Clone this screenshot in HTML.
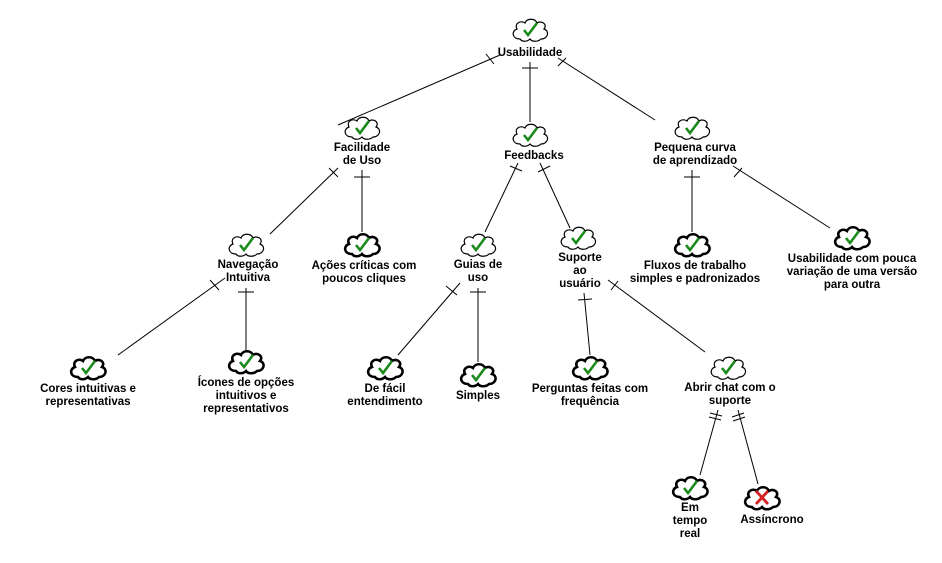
<!DOCTYPE html>
<html><head><meta charset="utf-8"><style>
body{margin:0;background:#fff}
text{font-family:"Liberation Sans",Tahoma,sans-serif;font-size:11.5px;font-weight:bold;text-anchor:middle}
</style></head><body>
<svg width="942" height="558" viewBox="0 0 942 558" xmlns="http://www.w3.org/2000/svg">
<defs>
<path id="cl" d="M-10,9 C-18,9 -19,1 -13,-1 C-16,-7 -9,-10 -5,-7 C-3,-12 5,-12 7,-7 C11,-10 18,-6 14,-1 C20,1 18,9 11,9 C8,12 2,12 0,9 C-3,12 -8,12 -10,9 Z" fill="#fff"/>
<g id="ck"><path d="M-6,0 L-2,5 L7,-7" fill="none" stroke="#1a8a1a" stroke-width="2.6"/></g>
<g id="thin"><use href="#cl" stroke="#000" stroke-width="1.2"/><use href="#ck"/></g>
<g id="thick"><use href="#cl" stroke="#000" stroke-width="2.6"/><use href="#ck"/></g>
</defs>
<g stroke="#000" stroke-width="1" fill="none">
<line x1="500" y1="55" x2="338" y2="125"/><line x1="486" y1="54" x2="494" y2="64"/>
<line x1="530" y1="62" x2="530" y2="122"/><line x1="522" y1="68" x2="538" y2="68"/>
<line x1="558" y1="58" x2="655" y2="120"/><line x1="558" y1="66" x2="566" y2="58"/>
<line x1="338" y1="168" x2="270" y2="234"/><line x1="329" y1="168" x2="338" y2="177"/>
<line x1="362" y1="170" x2="362" y2="232"/><line x1="354" y1="177" x2="370" y2="177"/>
<line x1="518" y1="163" x2="485" y2="232"/><line x1="510" y1="166" x2="522" y2="171"/>
<line x1="540" y1="163" x2="570" y2="228"/><line x1="538" y1="172" x2="550" y2="166"/>
<line x1="692" y1="170" x2="692" y2="232"/><line x1="684" y1="177" x2="700" y2="177"/>
<line x1="733" y1="166" x2="830" y2="228"/><line x1="734" y1="177" x2="742" y2="168"/>
<line x1="225" y1="278" x2="118" y2="355"/><line x1="210" y1="280" x2="219" y2="290"/>
<line x1="246" y1="288" x2="246" y2="350"/><line x1="238" y1="292" x2="254" y2="292"/>
<line x1="460" y1="283" x2="398" y2="355"/><line x1="446" y1="286" x2="457" y2="295"/>
<line x1="478" y1="288" x2="478" y2="362"/><line x1="470" y1="292" x2="486" y2="292"/>
<line x1="584" y1="293" x2="590" y2="355"/><line x1="578" y1="300" x2="592" y2="299"/>
<line x1="608" y1="280" x2="705" y2="352"/><line x1="611" y1="290" x2="618" y2="281"/>
<line x1="718" y1="410" x2="700" y2="475"/><line x1="710" y1="413" x2="722" y2="416"/><line x1="709" y1="417" x2="721" y2="420"/>
<line x1="738" y1="410" x2="758" y2="484"/><line x1="732" y1="417" x2="744" y2="413"/><line x1="733" y1="421" x2="745" y2="417"/>
</g>
<use href="#thin" x="530" y="30"/>
<use href="#thin" x="362" y="128"/>
<use href="#thin" x="530" y="135"/>
<use href="#thin" x="692" y="128"/>
<use href="#thin" x="246" y="245"/>
<use href="#thick" x="362" y="245"/>
<use href="#thin" x="478" y="245"/>
<use href="#thin" x="578" y="238"/>
<use href="#thick" x="692" y="245"/>
<use href="#thick" x="852" y="238"/>
<use href="#thick" x="88" y="368"/>
<use href="#thick" x="246" y="362"/>
<use href="#thick" x="385" y="368"/>
<use href="#thick" x="478" y="375"/>
<use href="#thick" x="590" y="368"/>
<use href="#thin" x="728" y="368"/>
<use href="#thick" x="690" y="488"/>
<use href="#cl" x="762" y="498" stroke="#000" stroke-width="2.6"/>
<g stroke="#d42020" stroke-width="2.8"><line x1="756" y1="491" x2="768" y2="504"/><line x1="768" y1="491" x2="756" y2="504"/></g>
<g fill="#000">
<text x="530" y="56">Usabilidade</text>
<text x="362" y="151">Facilidade</text><text x="362" y="164">de Uso</text>
<text x="534" y="159">Feedbacks</text>
<text x="695" y="151">Pequena curva</text><text x="695" y="164">de aprendizado</text>
<text x="248" y="268">Navegação</text><text x="248" y="281">Intuitiva</text>
<text x="364" y="269">Ações críticas com</text><text x="364" y="282">poucos cliques</text>
<text x="478" y="268">Guias de</text><text x="478" y="281">uso</text>
<text x="580" y="261">Suporte</text><text x="580" y="274">ao</text><text x="580" y="287">usuário</text>
<text x="695" y="269">Fluxos de trabalho</text><text x="695" y="282">simples e padronizados</text>
<text x="852" y="262">Usabilidade com pouca</text><text x="852" y="275">variação de uma versão</text><text x="852" y="288">para outra</text>
<text x="88" y="392">Cores intuitivas e</text><text x="88" y="405">representativas</text>
<text x="246" y="386">Ícones de opções</text><text x="246" y="399">intuitivos e</text><text x="246" y="412">representativos</text>
<text x="385" y="392">De fácil</text><text x="385" y="405">entendimento</text>
<text x="478" y="399">Simples</text>
<text x="590" y="392">Perguntas feitas com</text><text x="590" y="405">frequência</text>
<text x="730" y="391">Abrir chat com o</text><text x="730" y="404">suporte</text>
<text x="690" y="511">Em</text><text x="690" y="524">tempo</text><text x="690" y="537">real</text>
<text x="772" y="523">Assíncrono</text>
</g>
</svg>
</body></html>
